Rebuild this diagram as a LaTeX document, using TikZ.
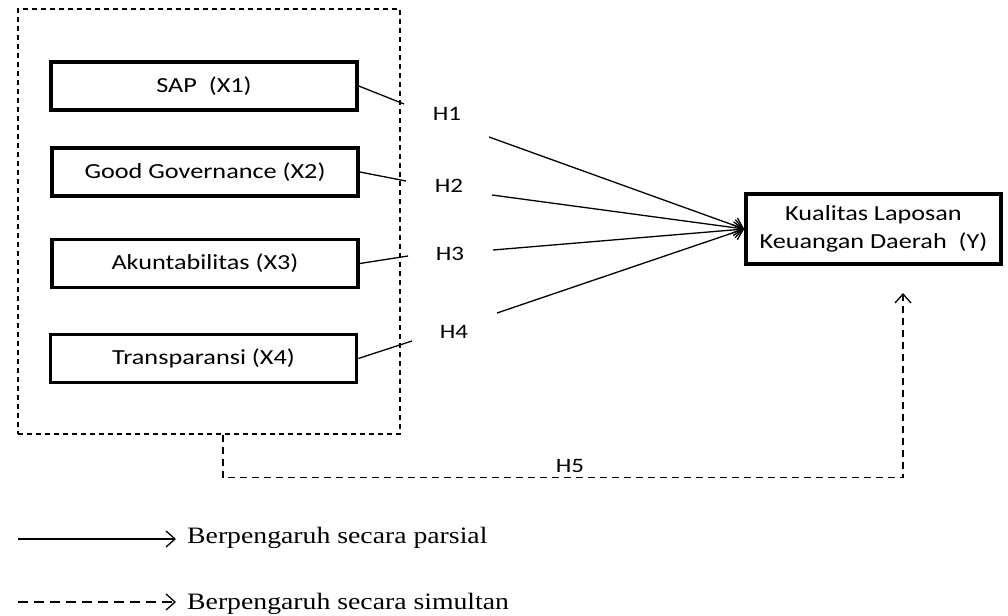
\documentclass[tikz,border=0pt]{standalone}
\usepackage{fontspec}
\setmainfont{Liberation Serif}
\newfontfamily\boxfont[FakeStretch=1.22]{Carlito}
\newfontfamily\legfont[FakeStretch=1.18]{Liberation Serif}
\usetikzlibrary{arrows.meta,positioning}

\begin{document}
\begin{tikzpicture}[x=1pt,y=-1pt,
  var/.style={draw,line width=3.6pt,minimum width=306pt,minimum height=48pt,font=\boxfont\fontsize{21.5}{28}\selectfont},
  hyp/.style={font=\boxfont\fontsize{20.5}{24}\selectfont},
  legend/.style={anchor=base west,inner sep=0pt,font=\legfont\fontsize{23.5}{28}\selectfont},
  partial/.style={line width=1.3pt,-{Straight Barb[length=9pt,width=16pt]}},
  simul/.style={line width=1.3pt,dash pattern=on 7pt off 5pt,-{Straight Barb[length=9pt,width=16pt]}}]
\useasboundingbox (0,0) rectangle (1008,615);
\node[draw,line width=1.3pt,dash pattern=on 5pt off 4pt,minimum width=382pt,minimum height=425pt] (grp) at (209,221.5) {};
\node[var] (x1) at (204,86) {SAP\ \ (X1)};
\node[var] (x2) at (205,172) {Good Governance (X2)};
\node[var] (x3) at (205,263.5) {Akuntabilitas (X3)};
\node[var] (x4) at (203.5,358.5) {Transparansi (X4)};
\node[var,minimum width=255pt,minimum height=70pt,align=center] (y) at (873.5,229) {Kualitas Laposan\\Keuangan Daerah\ \ (Y)};
\node[hyp] (h1) at (447,114) {H1};
\node[hyp] (h2) at (449,186) {H2};
\node[hyp] (h3) at (450,254) {H3};
\node[hyp] (h4) at (454,332) {H4};
\node[hyp] (h5) at (570,466) {H5};
\coordinate (a1) at (404,104);
\coordinate (a2) at (406,181);
\coordinate (a3) at (408,256);
\coordinate (a4) at (412,341);
\coordinate (b1) at (489,137);
\coordinate (b2) at (492,195);
\coordinate (b3) at (493,250);
\coordinate (b4) at (497,313);
\coordinate (c5) at (903,293);
\draw[line width=1.3pt] (x1.east) -- (a1) (x2.east) -- (a2) (x3.east) -- (a3) (x4.east) -- (a4);
\path[partial]
  (b1) edge (y.west)
  (b2) edge (y.west)
  (b3) edge (y.west)
  (b4) edge (y.west);
\draw[simul] ([xshift=14pt]grp.south) -- ++(0,43) -| (c5);
\node[legend] (leg1) at (187,543) {Berpengaruh secara parsial};
\node[legend] (leg2) at (187,609) {Berpengaruh secara simultan};
\coordinate (l1) at (18,539);
\coordinate (l2) at (18,602);
\draw[partial,shorten >=11pt] (l1) -- (l1 -| leg1.west);
\draw[simul,dash pattern=on 10pt off 6pt,shorten >=11pt] (l2) -- (l2 -| leg2.west);
\end{tikzpicture}
\end{document}
